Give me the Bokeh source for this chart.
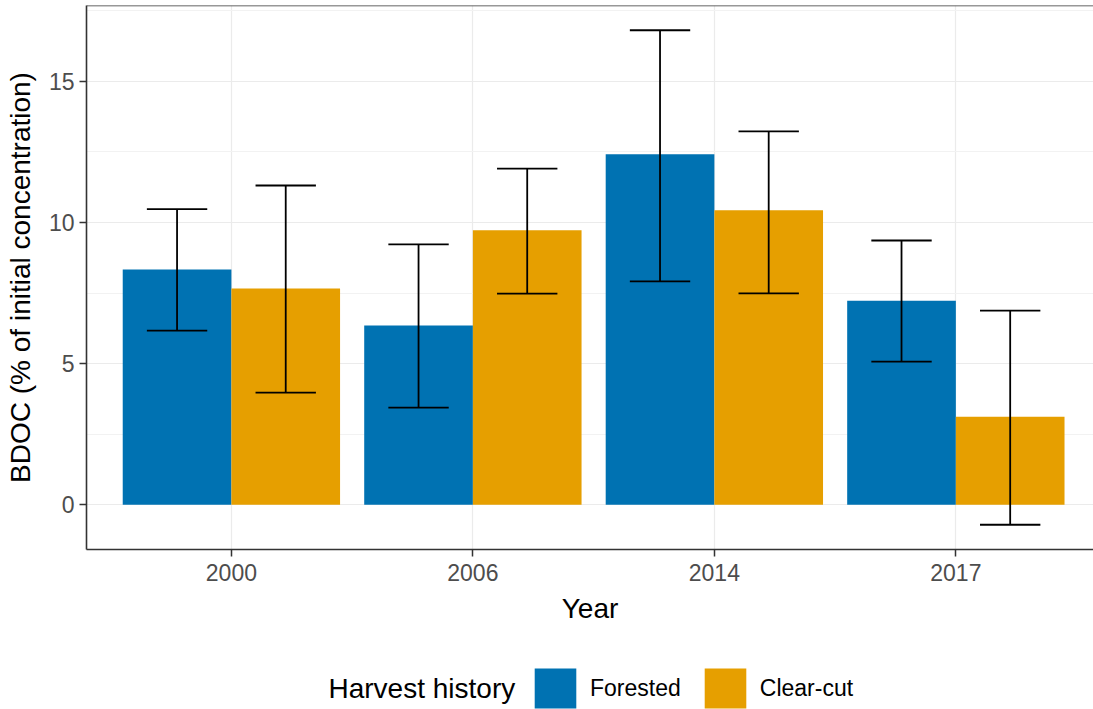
import numpy as np
from bokeh.plotting import figure
from bokeh.layouts import column
from bokeh.models import Range1d, FixedTicker, Span, Legend, LegendItem, Label
from bokeh.embed import file_html
from bokeh.resources import INLINE

# BDOC by sampling year and harvest history (mean with error range)
years = ["2000", "2006", "2014", "2017"]
groups = ["Forested", "Clear-cut"]

forested = [8.33, 6.35, 12.42, 7.23]
forested_lo = [6.17, 3.44, 7.91, 5.07]
forested_hi = [10.47, 9.22, 16.81, 9.36]

clearcut = [7.66, 9.72, 10.43, 3.12]
clearcut_lo = [3.97, 7.48, 7.49, -0.71]
clearcut_hi = [11.31, 11.91, 13.23, 6.88]

y_ticks = [0, 5, 10, 15]
y_minor = [2.5, 7.5, 12.5, 17.5]

colors = ["#0072B2", "#E69F00"]
FONT = "Liberation Sans"

# positions: one slot per year, two dodged bars per slot
idx = np.arange(1, len(years) + 1)
bar_w = 0.45
x_f = idx - bar_w / 2
x_c = idx + bar_w / 2
cap = 0.125

lo_all = min(forested_lo + clearcut_lo)
hi_all = max(forested_hi + clearcut_hi)
pad = 0.05 * (hi_all - lo_all)

p = figure(
    width=1093, height=629,
    x_range=Range1d(0.4, 4.57),
    y_range=Range1d(lo_all - pad, hi_all + pad),
    output_backend="svg", toolbar_location=None,
    min_border_left=86, min_border_right=0,
    min_border_top=5, min_border_bottom=80,
)
p.outline_line_color = None
p.background_fill_color = "white"
p.border_fill_color = "white"

# grid
p.xgrid.ticker = FixedTicker(ticks=list(idx))
p.xgrid.grid_line_color = "#EBEBEB"
p.xgrid.grid_line_width = 1.2
p.ygrid.ticker = FixedTicker(ticks=y_ticks, minor_ticks=y_minor)
p.ygrid.grid_line_color = "#EBEBEB"
p.ygrid.grid_line_width = 1.2
p.ygrid.minor_grid_line_color = "#F2F2F2"
p.ygrid.minor_grid_line_width = 1.0

# axes
p.xaxis.ticker = FixedTicker(ticks=list(idx))
p.xaxis.major_label_overrides = {int(i): y for i, y in zip(idx, years)}
p.yaxis.ticker = FixedTicker(ticks=y_ticks)
p.xaxis.axis_label = "Year"
p.yaxis.axis_label = "BDOC (% of initial concentration)"
for ax in (p.xaxis, p.yaxis):
    ax.axis_line_color = "#333333"
    ax.axis_line_width = 1.6
    ax.major_tick_line_color = "#333333"
    ax.major_tick_line_width = 1.5
    ax.major_tick_out = 7
    ax.major_tick_in = 0
    ax.minor_tick_line_color = None
    ax.major_label_text_font = FONT
    ax.major_label_text_font_size = "23px"
    ax.major_label_text_color = "#4D4D4D"
    ax.axis_label_text_font = FONT
    ax.axis_label_text_font_size = "28px"
    ax.axis_label_text_font_style = "normal"
    ax.axis_label_text_color = "#000000"
p.xaxis.major_label_standoff = 7
p.xaxis.axis_label_standoff = 9
p.yaxis.major_label_standoff = 5
p.yaxis.axis_label_standoff = 10

# top border of the panel
p.add_layout(Span(location=hi_all + pad, dimension="width",
                  line_color="#333333", line_width=1.6))

# bars
p.vbar(x=x_f, top=forested, bottom=0, width=bar_w,
       fill_color=colors[0], line_color=None)
p.vbar(x=x_c, top=clearcut, bottom=0, width=bar_w,
       fill_color=colors[1], line_color=None)

# error bars
for xs, lo, hi in ((x_f, forested_lo, forested_hi), (x_c, clearcut_lo, clearcut_hi)):
    p.segment(x0=xs, y0=lo, x1=xs, y1=hi, line_color="black", line_width=1.8)
    p.segment(x0=xs - cap, y0=lo, x1=xs + cap, y1=lo, line_color="black", line_width=1.8)
    p.segment(x0=xs - cap, y0=hi, x1=xs + cap, y1=hi, line_color="black", line_width=1.8)

# legend strip underneath the chart (frame aligned with the chart's frame)
lg = figure(width=1093, height=80, x_range=Range1d(0, 1), y_range=Range1d(0, 1),
            output_backend="svg", toolbar_location=None,
            x_axis_type=None, y_axis_type=None,
            min_border_left=0, min_border_right=0,
            min_border_top=0, min_border_bottom=0)
lg.outline_line_color = None
lg.grid.visible = False

# zero-height swatch renderers, used only for the legend keys
key_renderers = [lg.vbar(x=[0], top=[0], bottom=0, width=1, fill_color=c, line_color=None)
                 for c in colors]
legend = Legend(
    items=[LegendItem(label=g, renderers=[r]) for g, r in zip(groups, key_renderers)],
    orientation="horizontal",
    location=(443, -4),
    glyph_width=52, glyph_height=50,
    label_standoff=9, spacing=18,
    padding=0, margin=0,
    border_line_color=None, background_fill_alpha=0,
    label_text_font=FONT, label_text_font_size="23px",
    label_text_color="#000000",
)
lg.add_layout(legend)
lg.add_layout(Label(x=242, y=21, x_units="screen", y_units="screen",
                    text="Harvest history", text_font=FONT,
                    text_font_size="28px", text_baseline="middle",
                    text_align="left", text_color="#000000"))

open("out.html", "w").write(file_html(column(p, lg, spacing=0), INLINE))
